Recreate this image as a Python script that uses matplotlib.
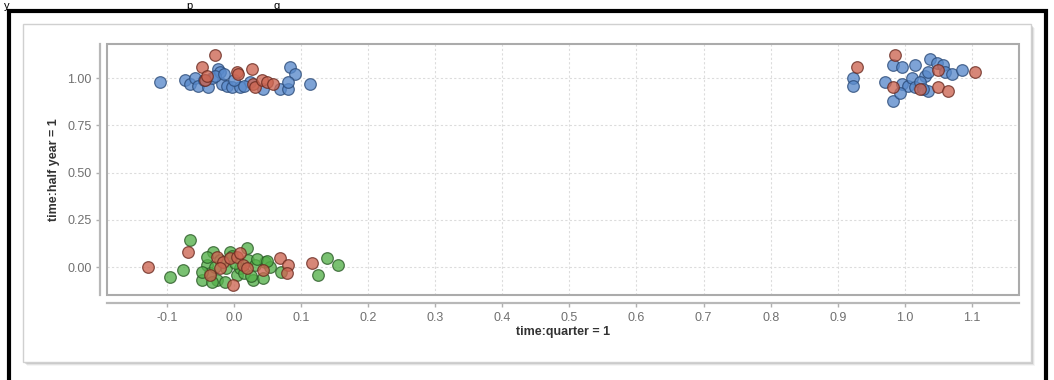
import numpy as np
import matplotlib
matplotlib.use('Agg')
import matplotlib.pyplot as plt
from matplotlib.patches import Rectangle

plt.rcParams['font.family'] = ['Liberation Sans', 'DejaVu Sans']

# points
blue_x = [-0.110, -0.073, -0.066, -0.058, -0.054, -0.039, -0.033, -0.024, -0.021, -0.018,
          -0.010, -0.003, 0.009, 0.024, 0.043, 0.069, 0.080, 0.083, 0.091, 0.080,
          0.113, -0.028, -0.015, 0.000, 0.015, -0.045,
          0.922, 0.922, 0.970, 0.982, 0.982, 0.995, 0.995, 1.004, 1.010, 1.015,
          1.015, 1.030, 1.034, 1.034, 1.037, 1.048, 1.057, 1.060, 1.070, 1.085,
          1.022, 0.993, 1.027]
blue_y = [0.98, 0.99, 0.97, 1.00, 0.96, 0.95, 1.00, 1.05, 1.03, 0.97,
          0.96, 0.95, 0.95, 0.98, 0.94, 0.94, 0.94, 1.06, 1.02, 0.98,
          0.97, 1.01, 1.02, 0.99, 0.96, 0.99,
          1.00, 0.96, 0.98, 1.07, 0.88, 1.06, 0.97, 0.96, 1.00, 1.07,
          0.95, 1.01, 1.03, 0.93, 1.10, 1.08, 1.07, 1.03, 1.02, 1.04,
          0.98, 0.92, 0.94]

red_x = [-0.028, -0.048, -0.043, 0.004, 0.006, 0.027, 0.028, 0.031, 0.042, 0.049,
         0.058, -0.040,
         0.928, 0.985, 0.982, 1.022, 1.049, 1.049, 1.064, 1.104,
         -0.128, -0.069, 0.116, 0.069, 0.080, 0.079, 0.043, -0.001, -0.036, -0.025,
         -0.016, -0.006, 0.004, 0.013, 0.019, 0.009, -0.021]
red_y = [1.12, 1.06, 0.99, 1.03, 1.02, 1.05, 0.97, 0.95, 0.99, 0.98,
         0.97, 1.01,
         1.06, 1.12, 0.95, 0.94, 1.04, 0.95, 0.93, 1.03,
         0.000, 0.079, 0.021, 0.048, 0.011, -0.032, -0.016, -0.095, -0.042, 0.053,
         0.026, 0.048, 0.053, 0.011, -0.005, 0.074, -0.005]

green_x = [-0.066, -0.095, -0.076, -0.048, -0.040, -0.031, -0.025, -0.006, -0.011, 0.004,
           0.019, 0.021, 0.028, 0.043, 0.046, 0.054, 0.071, 0.139, 0.155, 0.125,
           -0.036, -0.021, 0.009, -0.033, -0.013, 0.031, -0.048, -0.040, 0.002, 0.035,
           -0.003, 0.015, 0.050, -0.028, 0.025]
green_y = [0.143, -0.053, -0.016, -0.069, 0.011, 0.079, -0.069, 0.079, -0.005, -0.042,
           0.100, 0.037, -0.069, -0.058, 0.026, 0.000, -0.026, 0.048, 0.011, -0.042,
           -0.032, 0.037, -0.005, -0.079, -0.079, 0.011, -0.026, 0.053, 0.020, 0.040,
           0.060, -0.030, 0.030, 0.000, -0.050]

x_ticks = [-0.1, 0.0, 0.1, 0.2, 0.3, 0.4, 0.5, 0.6, 0.7, 0.8, 0.9, 1.0, 1.1]
y_ticks = [0.0, 0.25, 0.5, 0.75, 1.0]

W, H = 1054, 380
fig = plt.figure(figsize=(W / 100, H / 100), dpi=100)
fig.patch.set_facecolor('white')

# remains of a text line above the frame
for ch, px in [('y', 4), ('p', 186), ('g', 273)]:
    fig.text(px / W, 1 - 1 / H, ch, fontsize=8, color='black', va='top', ha='left')

# black frame
fig.patches.append(Rectangle((9 / W, -0.05), 1037 / W, 1.05 - 11 / H, transform=fig.transFigure,
                             fill=False, edgecolor='black', linewidth=3))
# card shadow + card
for i, a in enumerate([0.04, 0.07, 0.11, 0.16]):
    off = 4 - i
    fig.patches.append(Rectangle(((23 + off) / W, 1 - (362 + off) / H), 1008 / W, 338 / H,
                                 transform=fig.transFigure, facecolor='black', alpha=a,
                                 edgecolor='none'))
fig.patches.append(Rectangle((23 / W, 1 - 362 / H), 1008 / W, 338 / H, transform=fig.transFigure,
                             facecolor='white', edgecolor='#d0d0d0', linewidth=1))

ax = fig.add_axes([107 / W, 1 - 295 / H, 912 / W, 251 / H])
ax.set_zorder(5)
ax.set_xlim(-0.189, 1.170)
ax.set_ylim(-0.148, 1.180)

ax.scatter(green_x, green_y, s=70, c='#55b04a', edgecolors='#2a5a26', linewidths=0.9,
           alpha=0.78, zorder=3)
ax.scatter(blue_x, blue_y, s=70, c='#5a8acb', edgecolors='#2a4a78', linewidths=0.9,
           alpha=0.78, zorder=3)
ax.scatter(red_x, red_y, s=70, c='#cc6652', edgecolors='#6a2a20', linewidths=0.9,
           alpha=0.78, zorder=3)

ax.set_xticks(x_ticks)
ax.set_xticklabels(['%.1f' % v for v in x_ticks])
ax.set_yticks(y_ticks)
ax.set_yticklabels(['%.2f' % v for v in y_ticks])
ax.grid(True, color='#dcdcdc', linestyle=(0, (2, 2)), linewidth=0.8)
ax.set_axisbelow(True)

# plot box
ax.add_patch(Rectangle((0, 0), 1, 1, transform=ax.transAxes, fill=False,
                       edgecolor='#ababab', linewidth=1.5, clip_on=False, zorder=5))
for s in ['top', 'right']:
    ax.spines[s].set_visible(False)
ax.spines['left'].set_position(('outward', 5))
ax.spines['bottom'].set_position(('outward', 6))
for s in ['left', 'bottom']:
    ax.spines[s].set_color('#b8b8b8')
    ax.spines[s].set_linewidth(1.6)

ax.tick_params(axis='both', colors='#b0b0b0', length=3, width=1, labelsize=9, labelcolor='#707070')
ax.tick_params(axis='x', pad=3)
ax.tick_params(axis='y', pad=3)

ax.set_xlabel('time:quarter = 1', fontsize=9, fontweight='bold', color='#333333', labelpad=2)
ax.set_ylabel('time:half year = 1', fontsize=9, fontweight='bold', color='#333333', labelpad=5)

fig.savefig('out.png', dpi=100)
